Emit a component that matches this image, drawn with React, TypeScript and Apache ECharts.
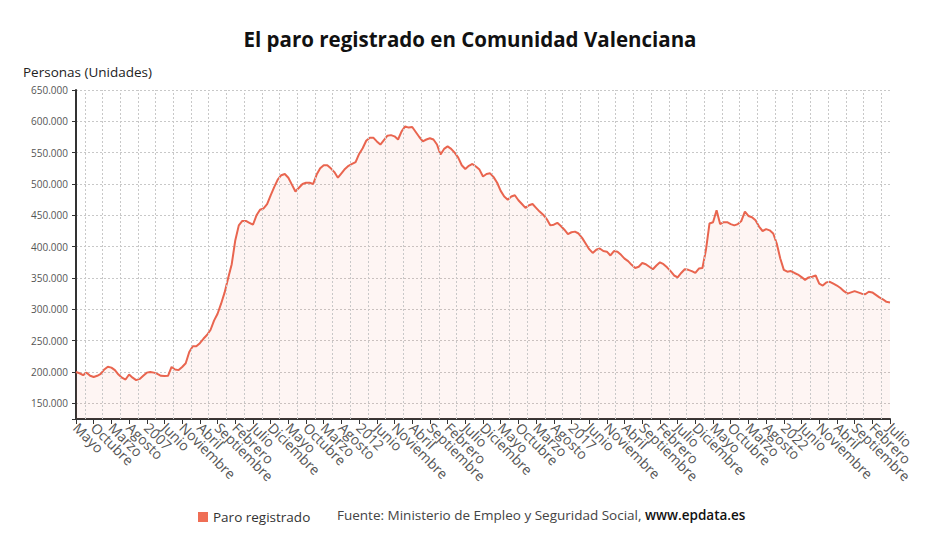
import React, { useEffect, useRef } from "react";
import * as echarts from "echarts";

const seriesName = "Paro registrado";

// Monthly values, May 2005 -> July 2024
const values2005 = [200000, 198000, 195000, 199000, 194000, 192000, 194000, 197000];
const values2006 = [204000, 208500, 207000, 203000, 196000, 191000, 188000, 196000, 191000, 187000, 189000, 194000];
const values2007 = [199000, 200000, 199000, 197000, 194000, 193500, 194000, 208000, 204000, 203000, 208000, 214000];
const values2008 = [232000, 241000, 241000, 246000, 253000, 259000, 267000, 282000, 293000, 309000, 327000, 350000];
const values2009 = [372000, 410000, 434000, 441000, 441000, 438000, 435000, 450000, 459000, 461000, 468000, 482000];
const values2010 = [495000, 507000, 514000, 516000, 510000, 499000, 488000, 494000, 500000, 502000, 502000, 500000];
const values2011 = [515000, 525000, 530000, 530000, 525000, 519000, 510000, 517000, 524000, 529000, 532000, 535000];
const values2012 = [548000, 557000, 569000, 574000, 574000, 568000, 563000, 570000, 577000, 578000, 576000, 571000];
const values2013 = [584000, 592000, 590000, 591000, 583000, 575000, 568000, 571000, 573000, 571000, 563000, 547000];
const values2014 = [556000, 560000, 556000, 550000, 542000, 530000, 524000, 529000, 532000, 528000, 523000, 512000];
const values2015 = [516000, 517000, 511000, 502000, 489000, 480000, 475000, 480000, 482000, 474000, 468000, 462000];
const values2016 = [466000, 468000, 462000, 456000, 451000, 444000, 434000, 435000, 438000, 433000, 427000, 420000];
const values2017 = [423000, 424000, 421000, 414000, 405000, 396000, 390000, 395000, 397000, 393000, 392000, 386000];
const values2018 = [393000, 392000, 387000, 381000, 377000, 371000, 366000, 368000, 374000, 372000, 368000, 364000];
const values2019 = [370000, 375000, 372000, 367000, 361000, 354000, 351000, 358000, 364000, 363000, 361000, 358000];
const values2020 = [365000, 366000, 395000, 437000, 439000, 458000, 436000, 439000, 439000, 436000, 434000, 436000];
const values2021 = [441000, 456000, 449000, 447000, 442000, 432000, 425000, 428000, 426000, 421000, 405000, 381000];
const values2022 = [363000, 360000, 361000, 358000, 355500, 351500, 347000, 351000, 352000, 354000, 341000, 338000];
const values2023 = [343000, 344000, 341000, 338000, 334000, 329000, 325000, 327000, 329000, 327000, 325000, 324000];
const values2024 = [328000, 327000, 323000, 319000, 316000, 312000, 311000];

const paroValues = [
  ...values2005, ...values2006, ...values2007, ...values2008, ...values2009,
  ...values2010, ...values2011, ...values2012, ...values2013, ...values2014,
  ...values2015, ...values2016, ...values2017, ...values2018, ...values2019,
  ...values2020, ...values2021, ...values2022, ...values2023, ...values2024,
];

// Tick labels every 5 months starting May 2005
const tickLabels = [
  "Mayo", "Octubre", "Marzo", "Agosto", "2007", "Junio", "Noviembre", "Abril", "Septiembre",
  "Febrero", "Julio", "Diciembre", "Mayo", "Octubre", "Marzo", "Agosto", "2012", "Junio",
  "Noviembre", "Abril", "Septiembre", "Febrero", "Julio", "Diciembre", "Mayo", "Octubre",
  "Marzo", "Agosto", "2017", "Junio", "Noviembre", "Abril", "Septiembre", "Febrero", "Julio",
  "Diciembre", "Mayo", "Octubre", "Marzo", "Agosto", "2022", "Junio", "Noviembre", "Abril",
  "Septiembre", "Febrero", "Julio",
];
const tickStep = 5;

const yMin = 125000;
const yMax = 650000;

const FONT = "'Open Sans', 'Noto Sans', sans-serif";

function fmtThousands(v: number): string {
  return String(Math.round(v)).replace(/\B(?=(\d{3})+(?!\d))/g, ".");
}

export default function App() {
  const ref = useRef<HTMLDivElement>(null);

  useEffect(() => {
    if (!ref.current) return;
    const chart = echarts.init(ref.current, undefined, { renderer: "svg" });
    const lastIndex = paroValues.length - 1;
    const gridX: number[] = [];
    for (let k = 0; k < tickLabels.length - 1; k++) gridX.push(tickStep * k + tickStep / 2);

    chart.setOption({
      animation: false,
      backgroundColor: "#ffffff",
      title: {
        text: "El paro registrado en Comunidad Valenciana",
        left: "center",
        top: 23,
        textStyle: { fontSize: 20.5, fontWeight: "bold", color: "#111", fontFamily: FONT },
      },
      legend: {
        data: [seriesName],
        left: 193,
        top: 505,
        icon: "rect",
        itemWidth: 10,
        itemHeight: 10,
        itemGap: 10,
        textStyle: { fontSize: 13.5, color: "#333", fontFamily: FONT },
      },
      graphic: [
        {
          type: "text",
          left: 23,
          top: 65,
          style: { text: "Personas (Unidades)", fontSize: 13.5, fill: "#222", fontFamily: FONT },
        },
        {
          type: "text",
          left: 337,
          top: 508,
          style: {
            text: "{a|Fuente: Ministerio de Empleo y Seguridad Social, }{b|www.epdata.es}",
            rich: {
              a: { fontSize: 13.5, fill: "#444", fontFamily: FONT },
              b: { fontSize: 13.5, fill: "#111", fontWeight: 600, fontFamily: FONT },
            },
          },
        },
      ],
      grid: { left: 76, right: 50, top: 90, bottom: 133, containLabel: false },
      xAxis: [
        {
          type: "value",
          position: "bottom",
          min: 0,
          max: lastIndex,
          interval: tickStep,
          axisLine: { show: true, onZero: false, lineStyle: { color: "#333", width: 2 } },
          axisTick: { show: true, length: 5, lineStyle: { color: "#333", width: 1 } },
          axisLabel: { show: false },
          splitLine: { show: false },
        },
        {
          type: "category",
          position: "bottom",
          boundaryGap: false,
          data: tickLabels.map((_, k) => String(k)),
          axisLine: { show: false, onZero: false },
          axisTick: { show: false },
          splitLine: { show: false },
          axisLabel: {
            interval: 0,
            rotate: -45,
            fontSize: 14,
            color: "#555",
            fontFamily: FONT,
            margin: 6,
            formatter: (_v: string, idx: number) => tickLabels[idx] ?? "",
          },
        },
      ],
      yAxis: {
        type: "value",
        min: yMin,
        max: yMax,
        splitNumber: 10,
        axisLine: { show: true, lineStyle: { color: "#333", width: 2 } },
        axisTick: { show: true, length: 4, lineStyle: { color: "#333" } },
        axisLabel: {
          fontSize: 10,
          color: "#555",
          fontFamily: FONT,
          margin: 8,
          formatter: (v: number) => (v <= yMin ? "" : fmtThousands(v)),
        },
        splitLine: { show: true, lineStyle: { color: "#c8c8c8", type: [2, 2], width: 1 } },
      },
      series: [
        {
          type: "line",
          data: [],
          silent: true,
          z: 1,
          markLine: {
            silent: true,
            symbol: ["none", "none"],
            label: { show: false },
            lineStyle: { color: "#c8c8c8", type: [2, 2], width: 1 },
            emphasis: { disabled: true },
            data: gridX.map((x) => ({ xAxis: x })),
          },
        },
        {
          name: seriesName,
          type: "line",
          z: 3,
          showSymbol: false,
          symbol: "none",
          data: paroValues.map((v, i) => [i, v]),
          lineStyle: { color: "#e9654f", width: 2 },
          itemStyle: { color: "#ef6e55" },
          areaStyle: { color: "rgba(238,108,85,0.1)" },
        },
      ],
    });
    return () => chart.dispose();
  }, []);

  return (
    <div
      ref={ref}
      style={{ position: "absolute", left: 0, top: 0, width: 940, height: 552, background: "#fff" }}
    />
  );
}
